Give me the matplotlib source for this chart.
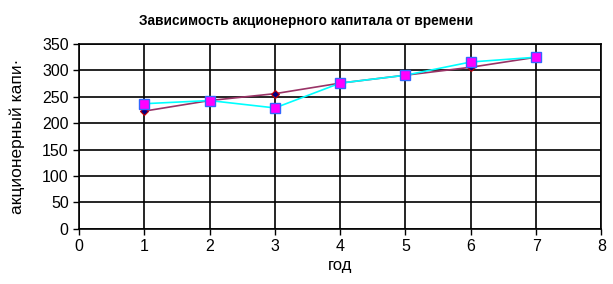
import matplotlib
matplotlib.use("Agg")
import matplotlib.pyplot as plt

plt.rcParams['font.family'] = ['Liberation Sans', 'DejaVu Sans']

# data
years = [1, 2, 3, 4, 5, 6, 7]
capital_fit = [223, 243, 256, 276, 291, 306, 325]
capital_obs = [237, 243, 229, 276, 291, 316, 325]

title = "Зависимость акционерного капитала от времени"
xlabel = "год"
ylabel = "акционерный капи·"

fig = plt.figure(figsize=(6.13, 2.84), dpi=100)
ax = fig.add_axes([0.129, 0.194, 0.852, 0.651])

ax.plot(years, capital_fit, "-", color="#993366", lw=1.2,
        marker="D", ms=4.5, mfc="#000080", mec="#cc0000", mew=0.8)
ax.plot(years, capital_obs, "-", color="#00ffff", lw=1.2,
        marker="s", ms=7, mfc="#ff00ff", mec="#3366ff", mew=1)

ax.set_xlim(0, 8)
ax.set_ylim(0, 350)
ax.set_xticks(range(0, 9))
ax.set_yticks(range(0, 351, 50))
ax.grid(True, color="black", lw=1.2)
ax.set_axisbelow(True)
for s in ax.spines.values():
    s.set_color("black")
    s.set_linewidth(1.2)
ax.tick_params(direction="out", length=4, width=1, labelsize=11.5, colors="black")

ax.set_xlabel(xlabel, fontsize=12, labelpad=3)
ax.set_ylabel(ylabel, fontsize=12.5, labelpad=12)
fig.text(0.5, 0.926, title, ha="center", va="center", fontsize=9.8, fontweight="bold")

plt.savefig("out.png", dpi=100)
